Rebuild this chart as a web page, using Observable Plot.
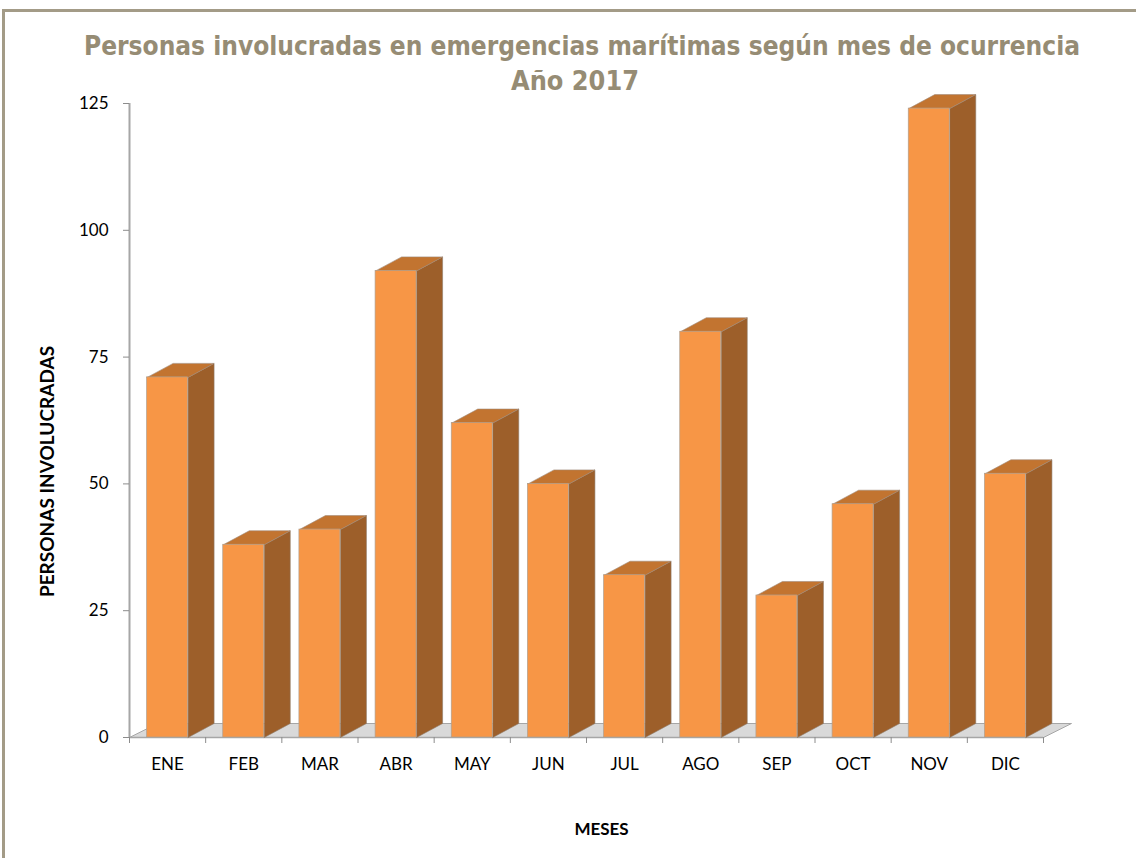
<!DOCTYPE html>
<html>
<head>
<meta charset="utf-8">
<script src="https://cdn.jsdelivr.net/npm/d3@7"></script>
<script src="https://cdn.jsdelivr.net/npm/@observablehq/plot@0.6"></script>
<style>
  html, body { margin: 0; padding: 0; background: #fff; width: 1136px; height: 858px; overflow: hidden; }
  #frame { position: absolute; left: 2px; top: 9px; width: 1200px; height: 900px;
           border-left: 3px solid #a39b87; border-top: 3px solid #a39b87; }
  #title { position: absolute; left: 0; top: 0; }
  #chart { position: absolute; left: 0; top: 0; }
</style>
</head>
<body>
<div id="frame"></div>
<div id="chart"></div>
<svg id="title" width="1136" height="110" xmlns="http://www.w3.org/2000/svg"
     style="font-family: 'DejaVu Sans Condensed', 'DejaVu Sans', sans-serif; font-weight: bold; font-size: 26px; fill: #968c74;"></svg>
<script>
// ---- data ----
const months = ["ENE", "FEB", "MAR", "ABR", "MAY", "JUN", "JUL", "AGO", "SEP", "OCT", "NOV", "DIC"];
const values = [71, 38, 41, 92, 62, 50, 32, 80, 28, 46, 124, 52];
const yTicks = [0, 25, 50, 75, 100, 125];
const titleLines = ["Personas involucradas en emergencias marítimas según mes de ocurrencia", "Año 2017"];
const xTitle = "MESES";
const yTitle = "PERSONAS INVOLUCRADAS";

// ---- title (real text, fitted to the reference width) ----
const tsvg = d3.select("#title");
const titleLayout = [{x: 582, y: 55, len: 996}, {x: 575, y: 90, len: 128}];
titleLines.forEach((t, k) => {
  tsvg.append("text").attr("x", titleLayout[k].x).attr("y", titleLayout[k].y)
    .attr("text-anchor", "middle").attr("textLength", titleLayout[k].len)
    .attr("lengthAdjust", "spacingAndGlyphs").text(t);
});

// ---- geometry helpers (in scale units) ----
const pxX = 914 / 12;      // px per x unit
const pxY = 634 / 125;     // px per y unit
const HW = 20.5 / pxX;     // half front width
const DX = 26 / pxX, DY = 14 / pxY;     // bar depth offset
const FDX = 28 / pxX, FDY = 14 / pxY;   // floor depth offset

const bars = months.map((m, i) => ({m, i, v: values[i]}));
const sides = bars.flatMap(b => {
  const x0 = b.i + HW;
  return [[x0, 0], [x0 + DX, DY], [x0 + DX, b.v + DY], [x0, b.v], [x0, 0]].map(([x, y]) => ({x, y, z: b.m}));
});
const tops = bars.flatMap(b => {
  const a = b.i - HW, c = b.i + HW;
  return [[a, b.v], [c, b.v], [c + DX, b.v + DY], [a + DX, b.v + DY], [a, b.v]].map(([x, y]) => ({x, y, z: b.m}));
});
const lo = -0.5, hi = months.length - 0.5;
const floor = [[lo, 0], [hi, 0], [hi + FDX, FDY], [lo + FDX, FDY], [lo, 0]].map(([x, y]) => ({x, y}));
const bounds = d3.range(months.length + 1).map(k => k - 0.5);

const chart = Plot.plot({
  width: 1136,
  height: 858,
  marginLeft: 129,
  marginRight: 93,
  marginTop: 103,
  marginBottom: 121,
  style: {fontFamily: "Lato, 'Open Sans', sans-serif", fontSize: "17px", color: "#000", background: "transparent"},
  x: {type: "linear", domain: [lo, hi], ticks: d3.range(months.length), tickFormat: i => months[i],
      tickSize: 0, tickPadding: 20, label: null},
  y: {domain: [0, 125], ticks: yTicks, tickSize: 0, tickPadding: 21, label: null},
  marks: [
    // floor
    Plot.line(floor, {x: "x", y: "y", fill: "#d9d9d9", stroke: "#a6a6a6", strokeWidth: 1}),
    // y axis line and ticks
    Plot.ruleX([lo], {y1: 0, y2: 125, stroke: "#a6a6a6", strokeWidth: 2}),
    Plot.ruleY(yTicks, {y: d => d, x1: lo - 6 / pxX, x2: lo, stroke: "#8c8c8c", strokeWidth: 1}),
    // x axis line and ticks
    Plot.ruleY([0], {x1: lo, x2: hi, stroke: "#a6a6a6", strokeWidth: 1.5}),
    Plot.ruleX(bounds, {x: d => d, y1: 0, y2: -6 / pxY, stroke: "#8c8c8c", strokeWidth: 1}),
    // bars: side, top, front
    Plot.line(sides, {x: "x", y: "y", z: "z", fill: "#9d5f2a", stroke: "#8f7a68", strokeWidth: 0.6}),
    Plot.line(tops, {x: "x", y: "y", z: "z", fill: "#c27430", stroke: "#a08a78", strokeWidth: 0.6}),
    Plot.rect(bars, {x1: d => d.i - HW, x2: d => d.i + HW, y1: 0, y2: "v", fill: "#f79646", stroke: "#b0a090", strokeWidth: 0.7}),
    // axis titles
    Plot.text([xTitle], {frameAnchor: "bottom", textAnchor: "middle", text: d => d, dx: 15, dy: 97, fontWeight: "bold", fontSize: 17}),
    Plot.text([yTitle], {frameAnchor: "left", textAnchor: "middle", text: d => d, rotate: -90, dx: -82, dy: 51, fontWeight: "bold", fontSize: 19})
  ]
});
document.getElementById("chart").appendChild(chart);
</script>
</body>
</html>
